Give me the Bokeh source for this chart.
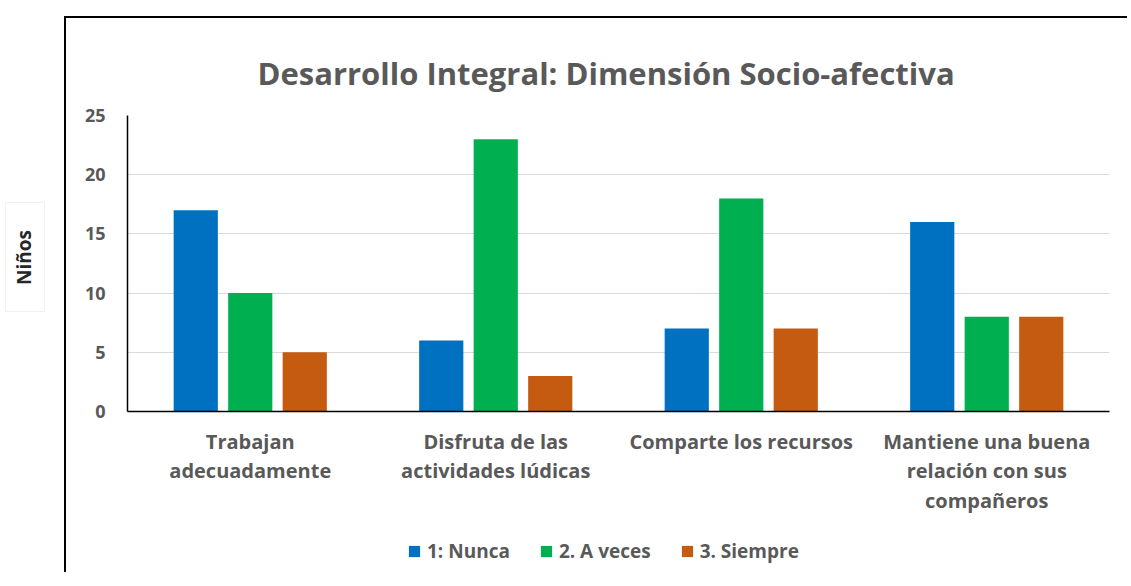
from bokeh.plotting import figure
from bokeh.models import FactorRange, Legend, LegendItem, ColumnDataSource, Div, Range1d
from bokeh.transform import dodge
from bokeh.layouts import row, column
from bokeh.embed import file_html
from bokeh.resources import INLINE

categories = ["Trabajan\nadecuadamente",
              "Disfruta de las\nactividades lúdicas",
              "Comparte los recursos",
              "Mantiene una buena\nrelación con sus\ncompañeros"]
series_names = ["1: Nunca", "2. A veces", "3. Siempre"]
nunca = [17, 6, 7, 16]
a_veces = [10, 23, 18, 8]
siempre = [5, 3, 7, 8]
y_ticks = [0, 5, 10, 15, 20, 25]
colors = ["#0070C0", "#00B050", "#C55A11"]

source = ColumnDataSource(data=dict(cat=categories, nunca=nunca, a_veces=a_veces, siempre=siempre))

FONT = "Open Sans"
GRAY = "#595959"
FIG_W = 1063

p = figure(x_range=FactorRange(*categories), y_range=(0, 25),
           width=FIG_W, height=512, output_backend="svg", toolbar_location=None,
           min_border_left=61, min_border_right=20, min_border_top=97, min_border_bottom=119,
           outline_line_color=None, margin=(16, 0, 0, 0),
           styles={"border-left": "2px solid #000000", "border-top": "2px solid #000000"})

p.title.text = "Desarrollo Integral: Dimensión Socio-afectiva"
p.title.align = "left"
p.title.vertical_align = "top"
p.title.text_font = FONT
p.title.text_font_size = "31px"
p.title.text_font_style = "bold"
p.title.text_color = GRAY
p.title.offset = 130
p.title.standoff = 40

offsets = [-0.222, 0.0, 0.222]
for name, field, col, off in zip(series_names, ["nunca", "a_veces", "siempre"], colors, offsets):
    p.vbar(x=dodge("cat", off, range=p.x_range), top=field, width=0.18, bottom=0,
           source=source, fill_color=col, line_color=None)

p.xgrid.grid_line_color = None
p.ygrid.grid_line_color = "#D9D9D9"
p.ygrid.grid_line_width = 1

p.yaxis.ticker = y_ticks
p.yaxis.major_tick_line_color = None
p.yaxis.minor_tick_line_color = None
p.yaxis.major_tick_in = 0
p.yaxis.major_tick_out = 0
p.yaxis.axis_line_color = "#000000"
p.yaxis.axis_line_width = 1.5
p.yaxis.major_label_text_font = FONT
p.yaxis.major_label_text_font_size = "18px"
p.yaxis.major_label_text_font_style = "bold"
p.yaxis.major_label_text_color = GRAY
p.yaxis.major_label_standoff = 22

p.xaxis.major_tick_line_color = None
p.xaxis.minor_tick_line_color = None
p.xaxis.major_tick_in = 0
p.xaxis.major_tick_out = 0
p.xaxis.axis_line_color = "#000000"
p.xaxis.axis_line_width = 1.5
p.xaxis.major_label_text_font = FONT
p.xaxis.major_label_text_font_size = "20px"
p.xaxis.major_label_text_font_style = "bold"
p.xaxis.major_label_text_color = GRAY
p.xaxis.major_label_text_line_height = 1.1
p.xaxis.major_label_standoff = 16

# legend strip (separate small figure so the legend is not clipped)
lg = figure(width=FIG_W, height=44, output_backend="svg", toolbar_location=None,
            x_range=Range1d(0, 1), y_range=Range1d(0, 1),
            min_border_left=0, min_border_right=0, min_border_top=0, min_border_bottom=0,
            outline_line_color=None,
            styles={"border-left": "2px solid #000000"})
lg.axis.visible = False
lg.grid.visible = False
legend_renderers = []
for name, col in zip(series_names, colors):
    # zero-height proxy bar outside the visible range: only feeds the legend swatch
    r = lg.vbar(x=[5], top=[0], bottom=[0], width=0.1, fill_color=col, line_color=None)
    legend_renderers.append((name, r))

legend = Legend(items=[LegendItem(label=n, renderers=[r]) for n, r in legend_renderers],
                orientation="horizontal", location=(280, 8))
legend.label_text_font = FONT
legend.label_text_font_size = "19px"
legend.label_text_font_style = "bold"
legend.label_text_color = GRAY
legend.glyph_width = 14
legend.glyph_height = 14
legend.spacing = 29
legend.label_standoff = 6
legend.border_line_color = None
legend.background_fill_alpha = 0
legend.margin = 0
legend.padding = 0
lg.add_layout(legend)

label_div = Div(text=(
    '<div style="margin-top:197px; width:40px; height:110px; border:1px solid #F2F2F2; '
    'display:flex; align-items:center; justify-content:center;">'
    '<span style="writing-mode:vertical-rl; transform:rotate(180deg); '
    'font-family:\'Open Sans\'; font-weight:bold; font-size:19px; color:#262626;">Niños</span></div>'),
    width=54, height=566)

layout = row(label_div, column(p, lg))
open("out.html", "w").write(file_html(layout, INLINE))
